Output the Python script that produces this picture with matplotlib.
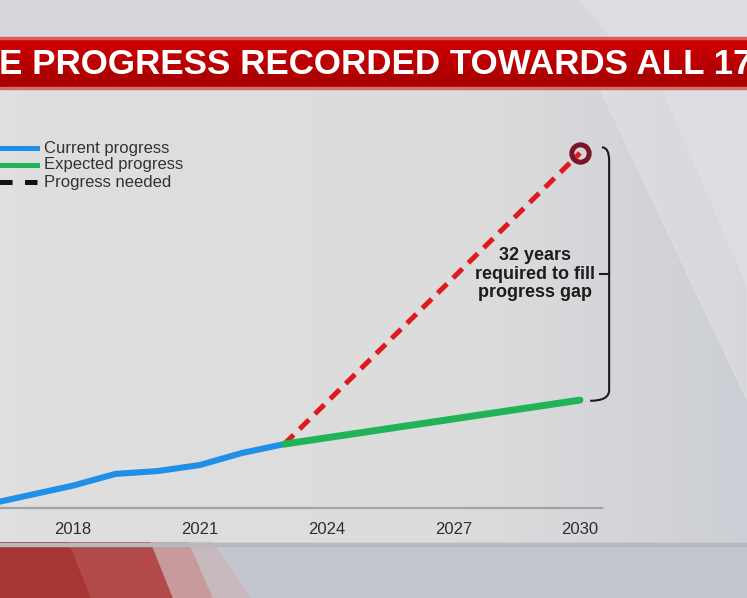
import numpy as np
import matplotlib.pyplot as plt
from matplotlib.path import Path
from matplotlib.patches import PathPatch, Polygon, Rectangle
from matplotlib.lines import Line2D

plt.rcParams['font.family'] = ['Liberation Sans', 'DejaVu Sans']
plt.rcParams['lines.scale_dashes'] = False

# data (progress index)
years_current = [2016, 2017, 2018, 2019, 2020, 2021, 2022, 2023]
current = [1.1, 3.7, 6.3, 9.6, 10.4, 12.1, 15.5, 18.0]
years_expected = [2023, 2030]
expected = [18.0, 30.4]
years_needed = [2023, 2030]
needed = [18.0, 100.0]
xticks = [2018, 2021, 2024, 2027, 2030]
title = 'E PROGRESS RECORDED TOWARDS ALL 17'
gap_text = '32 years\nrequired to fill\nprogress gap'
legend_labels = ['Current progress', 'Expected progress', 'Progress needed']

W, H = 747, 598
fig = plt.figure(figsize=(W / 100, H / 100), dpi=100)

# background (pixel coordinates)
bg = fig.add_axes([0, 0, 1, 1], zorder=0)
bg.set_xlim(0, W)
bg.set_ylim(H, 0)
bg.axis('off')

# top strip
bg.add_patch(Rectangle((0, 0), W, 37, color='#d6d7da'))
bg.add_patch(Polygon([(580, 0), (747, 0), (747, 37), (610, 37)], color='#dcdde1'))

# panel with horizontal gradient
xs = np.linspace(0, 1, 256)
stops = [(0.0, (0.875, 0.875, 0.875)), (0.65, (0.862, 0.862, 0.866)),
         (1.0, (0.80, 0.81, 0.835))]
img = np.zeros((256, 3))
for k in range(3):
    img[:, k] = np.interp(xs, [s[0] for s in stops], [s[1][k] for s in stops])
bg.imshow(img[None, :, :], extent=(0, W, 543, 89), aspect='auto', zorder=1)
bg.add_patch(Polygon([(663, 89), (747, 89), (747, 285)], color='#dcdee3', zorder=2))
bg.add_patch(Polygon([(600, 89), (663, 89), (747, 285), (747, 400)],
                     color='#e2e3e6', alpha=0.5, zorder=2))

# red banner with vertical gradient
rgrad = np.linspace(0, 1, 64)
r0 = np.array([0.82, 0.0, 0.02])
r1 = np.array([0.64, 0.0, 0.0])
rimg = r0[None, :] * (1 - rgrad[:, None]) + r1[None, :] * rgrad[:, None]
bg.imshow(rimg[:, None, :], extent=(0, W, 89, 37), aspect='auto', zorder=3)
bg.add_patch(Rectangle((0, 37), W, 2, color='#e05a5a', zorder=4))
bg.add_patch(Rectangle((0, 87), W, 2, color='#d86a6a', zorder=4))
bg.text(-1, 64, title, color='white', fontsize=25.2, fontweight='bold',
        ha='left', va='center', zorder=5)

# bottom strip
bg.add_patch(Rectangle((0, 543), W, H - 543, color='#c3c6cc', zorder=1))
bg.add_patch(Polygon([(0, 543), (212, 543), (250, 598), (0, 598)], color='#c7b9bd', zorder=2))
bg.add_patch(Polygon([(0, 543), (188, 543), (212, 598), (0, 598)], color='#c79a9c', zorder=2))
bg.add_patch(Polygon([(0, 543), (150, 543), (172, 598), (0, 598)], color='#b24a49', zorder=2))
bg.add_patch(Polygon([(0, 543), (68, 543), (90, 598), (0, 598)], color='#a63633', zorder=2))
bg.add_patch(Rectangle((0, 543), W, 3, color='#b7b9bd', zorder=3))

# chart axes: x pixel 0..602 covers 2016.27..2030.52, baseline at y=508
px_per_year = 42.25
x0 = 2018 - 73 / px_per_year
x1 = 2018 + (602 - 73) / px_per_year
px_per_unit = 3.55
top_px = 130
ax = fig.add_axes([0, (H - 508) / H, 602 / W, (508 - top_px) / H], zorder=2)
ax.patch.set_alpha(0)
ax.set_xlim(x0, x1)
ax.set_ylim(0, (508 - top_px) / px_per_unit)

ax.plot(years_current, current, color='#1f8fe8', lw=4.4, solid_capstyle='round',
        solid_joinstyle='round', zorder=3)
ax.plot(years_expected, expected, color='#21b357', lw=5.0, solid_capstyle='round', zorder=3)
ax.plot(years_needed, needed, color='#e0191b', lw=3.6, dashes=(9.5, 6), zorder=2)
ax.plot(years_needed[-1], needed[-1], 'o', ms=12.5, mfc='none', mec='#7a1428',
        mew=3.6, zorder=4, clip_on=False)

# bracket from needed to expected at 2030
xb = years_needed[-1] + 0.69
ytop = needed[-1] + 1.6
ybot = expected[-1] - 0.2
mid = (ytop + ybot) / 2
verts = [(xb - 0.17, ytop), (xb, ytop), (xb, ytop - 3.8),
         (xb, ybot + 3.0), (xb, ybot), (xb - 0.45, ybot)]
codes = [Path.MOVETO, Path.CURVE3, Path.CURVE3, Path.LINETO, Path.CURVE3, Path.CURVE3]
ax.add_patch(PathPatch(Path(verts, codes), fill=False, ec='#1a1a1a', lw=1.5, clip_on=False))
ax.plot([xb, xb - 0.22], [mid, mid], color='#1a1a1a', lw=1.5, clip_on=False)
ax.text(xb - 1.75, mid, gap_text, ha='center', va='center', fontsize=13,
        fontweight='bold', color='#1c1c1c', linespacing=1.12)

for s in ['top', 'right', 'left']:
    ax.spines[s].set_visible(False)
ax.spines['bottom'].set_color('#a3a3a3')
ax.spines['bottom'].set_linewidth(1.6)
ax.set_yticks([])
ax.set_xticks(xticks)
ax.set_xticklabels([str(t) for t in xticks])
ax.tick_params(axis='x', length=0, pad=10, labelsize=12, labelcolor='#2e2e2e')

# legend
leg_styles = [dict(color='#1f8fe8', lw=3.6), dict(color='#21b357', lw=3.6),
              dict(color='#111111', lw=3.6, dashes=(9.4, 9.0))]
for i, (lab, st) in enumerate(zip(legend_labels, leg_styles)):
    y = 148 + 17 * i
    bg.add_line(Line2D([-4, 37], [y, y], zorder=6, **st))
    bg.text(44, y, lab, fontsize=12, color='#333333', ha='left', va='center', zorder=6)

fig.savefig('out.png', dpi=100)
